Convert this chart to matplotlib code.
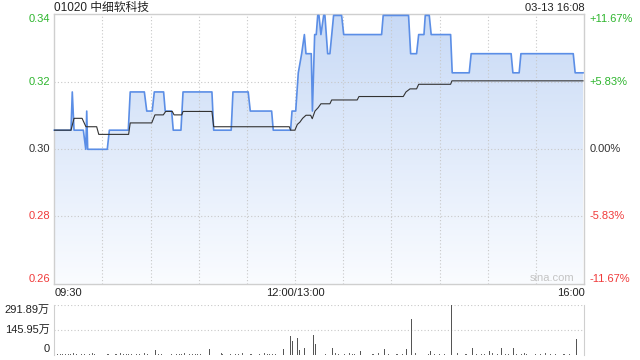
import numpy as np
import matplotlib
matplotlib.use("Agg")
import matplotlib.pyplot as plt
from matplotlib.transforms import blended_transform_factory

plt.rcParams['font.family'] = ['Liberation Sans', 'Noto Sans CJK SC', 'DejaVu Sans']

# minutes since 09:30 (lunch break removed), prices in HKD
price_t = [0, 10.4, 11.2, 12.3, 18.1, 19.6, 20.2, 20.8, 33.0, 34.3, 46.1, 47.3, 56.1, 57.6,
           61.0, 62.3, 68.1, 69.1, 73.1, 74.1, 78.9, 80.2, 98.2, 99.3, 110.2, 111.3, 120.8,
           122.1, 135.4, 136.4, 147.2, 148.1, 150.4, 152.0, 154.1, 155.8, 156.8, 160.1, 160.8,
           162.2, 163.2, 164.1, 164.9, 166.1, 167.8, 168.6, 170.3, 171.7, 174.0, 179.0, 180.3,
           203.9, 204.9, 220.7, 222.0, 225.7, 227.0, 230.3, 231.1, 233.6, 234.8, 246.9, 247.9,
           258.5, 259.7, 284.6, 285.7, 289.6, 290.7, 323.3, 324.5, 329.4]
price = [0.305, 0.305, 0.315, 0.305, 0.305, 0.300, 0.310, 0.300, 0.300, 0.305, 0.305, 0.315,
         0.315, 0.310, 0.310, 0.315, 0.315, 0.310, 0.310, 0.305, 0.305, 0.315, 0.315, 0.305,
         0.305, 0.315, 0.315, 0.310, 0.310, 0.305, 0.305, 0.310, 0.310, 0.320, 0.325, 0.330,
         0.325, 0.325, 0.310, 0.330, 0.330, 0.335, 0.335, 0.330, 0.335, 0.335, 0.325, 0.325,
         0.335, 0.335, 0.330, 0.330, 0.335, 0.335, 0.325, 0.325, 0.330, 0.330, 0.335, 0.335,
         0.330, 0.330, 0.320, 0.320, 0.325, 0.325, 0.320, 0.320, 0.325, 0.325, 0.320, 0.320]

avg_t = [0, 10.4, 12.3, 17.3, 19.7, 26.4, 27.7, 46.3, 47.3, 60.7, 62.7, 67.9, 69.4, 73.5, 74.6,
         79.4, 80.2, 98.2, 99.3, 146.4, 147.2, 149.9, 151.4, 153.0, 154.7, 156.8, 159.7, 160.7,
         162.4, 164.4, 166.1, 171.7, 172.8, 188.7, 189.8, 217.4, 219.1, 221.6, 225.7, 227.0,
         246.9, 247.7, 329.4]
avg = [0.3050, 0.3050, 0.3081, 0.3081, 0.3059, 0.3059, 0.3039, 0.3039, 0.3069, 0.3069, 0.3090,
       0.3090, 0.3099, 0.3099, 0.3090, 0.3090, 0.3099, 0.3099, 0.3059, 0.3059, 0.3050, 0.3050,
       0.3065, 0.3071, 0.3081, 0.3089, 0.3089, 0.3080, 0.3100, 0.3109, 0.3119, 0.3119, 0.3129,
       0.3129, 0.3138, 0.3138, 0.3150, 0.3158, 0.3158, 0.3170, 0.3170, 0.3179, 0.3179]

# volume, in 万 shares: larger trades
big_t = [27.8, 62.9, 69.6, 93.9, 96.5, 99.5, 142.6, 147.4, 148.2, 151.4, 152.6, 155.7, 157.4,
         161.6, 162.6, 165.5, 166.1, 173.2, 190.8, 205.5, 219.2, 222.4, 228.4, 234.4, 247.7,
         260.3, 270.9, 278.4, 285.9, 325.1, 328.7]
big_vol = [6, 24, 8, 59, 30, 179, 30, 110, 79, 98, 24, 36, 25,
           114, 61, 51, 30, 39, 20, 30, 30, 209, 16, 18, 291.89,
           39, 22, 36, 39, 90, 8]
# small trades along the baseline
small_t = [1, 2, 4, 5, 7, 9, 10, 12, 14, 16, 17, 19, 22, 24, 25, 31, 33, 34, 36, 38, 39, 41, 43,
           45, 46, 48, 51, 53, 54, 56, 58, 65, 67, 73, 76, 78, 79, 81, 84, 86, 88, 89, 91, 102,
           104, 105, 107, 110, 112, 113, 115, 117, 120, 122, 123, 125, 128, 131, 133, 134, 136,
           138, 140, 145, 169, 175, 177, 178, 181, 184, 186, 187, 193, 196, 198, 199, 202, 208,
           211, 213, 214, 217, 225, 231, 233, 237, 240, 243, 251, 254, 256, 257, 263, 266, 268,
           273, 276, 281, 283, 288, 291, 293, 294, 297, 300, 302, 303, 306, 309, 312, 315, 317,
           318, 321]
small_vol = [3, 4, 3, 2, 5, 3, 2, 6, 4, 3, 2, 5, 4, 7, 2, 3, 2, 5, 4, 3, 2, 6, 4,
             3, 2, 5, 4, 3, 2, 6, 5, 4, 2, 5, 3, 4, 2, 6, 3, 5, 4, 2, 3, 4,
             6, 2, 3, 5, 4, 2, 3, 7, 4, 3, 2, 5, 4, 6, 3, 2, 4,
             5, 3, 6, 4, 7, 2, 5, 3, 6, 2, 4, 3, 5, 2, 4, 6, 3,
             5, 2, 4, 3, 6, 4, 2, 5, 3, 4, 6, 3, 2, 5, 4, 3, 5,
             6, 4, 3, 5, 4, 2, 6, 3, 5, 2, 4, 3, 6, 4, 5, 2,
             3, 4, 4]

y_lo, y_hi = 0.2647, 0.3353
price_ticks = [y_hi, 0.3175, 0.30, 0.2825, y_lo]
price_labels = ['0.34', '0.32', '0.30', '0.28', '0.26']
pct_labels = ['+11.67%', '+5.83%', '0.00%', '-5.83%', '-11.67%']
label_colors = ['#2db52d', '#2db52d', '#333333', '#f03a3a', '#f03a3a']
vol_max = 291.89

grid_c = '#c8c8c8'
spine_c = '#cfcfcf'
text_c = '#222222'

fig = plt.figure(figsize=(6.4, 3.6), dpi=100)
ax = fig.add_axes([54.3 / 640, 1 - 284.3 / 360, 529.7 / 640, 270 / 360])
axv = fig.add_axes([54.3 / 640, 1 - 354.5 / 360, 529.7 / 640, 49.5 / 360])

ax.set_xlim(0, 330)
ax.set_ylim(y_lo, y_hi)
ax.set_xticks([])
ax.set_yticks([])
for s in ax.spines.values():
    s.set_color(spine_c)
    s.set_linewidth(1)

for m in range(30, 330, 30):
    ax.axvline(m, color=grid_c, lw=0.8, ls=(0, (1, 2)), zorder=1)
for v in price_ticks[1:-1]:
    ax.axhline(v, color=grid_c, lw=0.8, ls=(0, (1, 2)), zorder=1)

# gradient fill under the price line
poly = ax.fill_between(price_t, price, y_lo, color='none', lw=0)
grad = np.linspace(0, 1, 256).reshape(-1, 1)
cmap = matplotlib.colors.LinearSegmentedColormap.from_list('g', ['#c8daf6', '#fafcff'])
im = ax.imshow(grad, cmap=cmap, extent=[0, 330, y_lo, y_hi], aspect='auto',
               origin='upper', zorder=0)
im.set_clip_path(poly.get_paths()[0], transform=ax.transData)

ax.plot(price_t, price, color='#5b8ee6', lw=1.2, zorder=3, clip_on=False)
ax.plot(avg_t, avg, color='#333333', lw=0.8, zorder=4)

trans = blended_transform_factory(ax.transAxes, ax.transData)
for i, (v, lab, pct, c) in enumerate(zip(price_ticks, price_labels, pct_labels, label_colors)):
    va = 'top' if i == 0 else ('bottom' if i == len(price_ticks) - 1 else 'center')
    ax.text(-0.008, v, lab, transform=trans, ha='right', va=va, color=c, fontsize=8)
    ax.text(1.011, v, pct, transform=trans, ha='left', va=va, color=c, fontsize=8)

fig.text(54.5 / 640, 1 - 8 / 360, '01020 中细软科技', ha='left', va='center',
         fontsize=8.5, color=text_c)
fig.text(584.5 / 640, 1 - 8 / 360, '03-13 16:08', ha='right', va='center',
         fontsize=8, color=text_c)
xl_y = 1 - 292.5 / 360
fig.text(54.5 / 640, xl_y, '09:30', ha='left', va='center', fontsize=8, color=text_c)
fig.text(295.7 / 640, xl_y, '12:00/13:00', ha='center', va='center', fontsize=8, color=text_c)
fig.text(585 / 640, xl_y, '16:00', ha='right', va='center', fontsize=8, color=text_c)
ax.text(0.982, 0.005, 'sina.com', transform=ax.transAxes, ha='right', va='bottom',
        fontsize=8, color='#c4c4c4')

# volume panel
axv.set_xlim(0, 330)
axv.set_ylim(0, vol_max)
axv.set_xticks([])
axv.set_yticks([])
axv.spines['top'].set_visible(False)
axv.spines['bottom'].set_visible(False)
for s in ('left', 'right'):
    axv.spines[s].set_color(spine_c)
for v in (vol_max, vol_max / 2):
    axv.axhline(v, color=grid_c, lw=0.8, ls=(0, (1, 2)), zorder=1)
axv.bar(big_t, big_vol, width=0.5, color='#555555', zorder=2)
axv.bar(small_t, small_vol, width=0.5, color='#666666', zorder=2)
ytr = axv.get_yaxis_transform()
axv.text(-0.008, vol_max, '291.89万', transform=ytr, ha='right', va='top', fontsize=8, color=text_c)
axv.text(-0.008, vol_max / 2, '145.95万', transform=ytr, ha='right', va='center',
         fontsize=8, color=text_c)
axv.text(-0.008, 0, '0', transform=ytr, ha='right', va='bottom', fontsize=8, color=text_c)

fig.savefig('out.png', dpi=100)
